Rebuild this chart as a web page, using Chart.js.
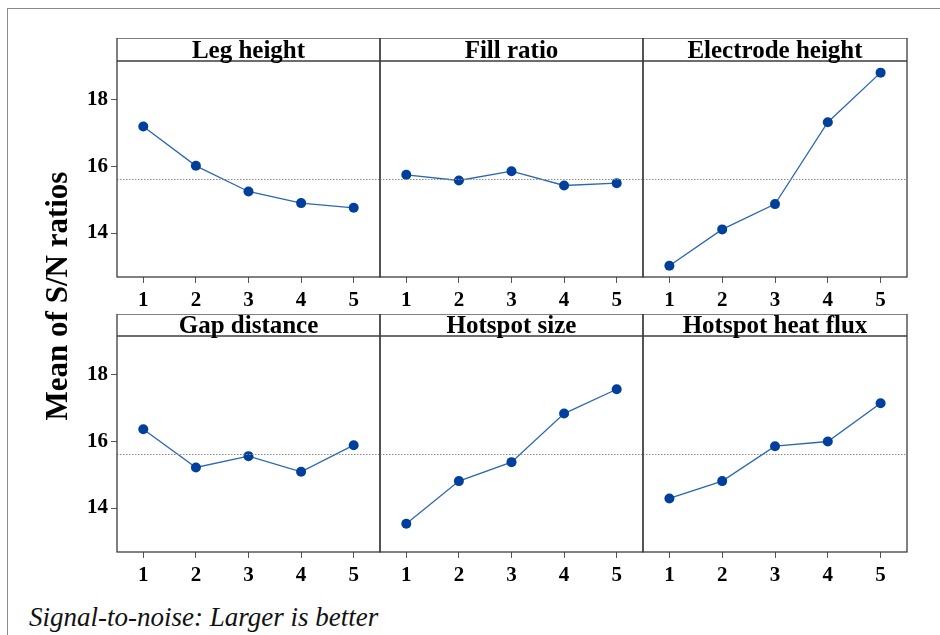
<!DOCTYPE html>
<html>
<head>
<meta charset="utf-8">
<script src="https://cdn.jsdelivr.net/npm/chart.js@4.4.1/dist/chart.umd.min.js"></script>
<style>
  html, body { margin: 0; padding: 0; background: #fff; }
  #wrap { position: relative; width: 940px; height: 635px; overflow: hidden; background: #fff; }
  #frame { position: absolute; left: 7px; top: 8px; width: 960px; height: 660px; border-top: 1.5px solid #8a8a8a; border-left: 1.5px solid #8a8a8a; }
  canvas { position: absolute; }
  #ylabel { position: absolute; left: -96px; top: 281px; width: 300px; height: 30px; line-height: 30px;
    text-align: center; transform: rotate(-90deg); font: bold 31px 'Liberation Serif', 'Times New Roman', serif; color: #000; }
  #footer { position: absolute; left: 29px; top: 602px; line-height: 27px; white-space: nowrap;
    font: italic 27px 'Liberation Serif', 'Times New Roman', serif; color: #111; }
</style>
</head>
<body>
<div id="wrap">
  <div id="frame"></div>
  <canvas id="c0"></canvas>
  <canvas id="c1"></canvas>
  <canvas id="c2"></canvas>
  <canvas id="c3"></canvas>
  <canvas id="c4"></canvas>
  <canvas id="c5"></canvas>
  <div id="ylabel">Mean of S/N ratios</div>
  <div id="footer">Signal-to-noise: Larger is better</div>
</div>
<script>
// data
const levels = ['1', '2', '3', '4', '5'];
const titles = ['Leg height', 'Fill ratio', 'Electrode height', 'Gap distance', 'Hotspot size', 'Hotspot heat flux'];
const legHeight = [17.20, 16.02, 15.25, 14.90, 14.76];
const fillRatio = [15.75, 15.58, 15.86, 15.43, 15.50];
const electrodeHeight = [13.02, 14.11, 14.87, 17.33, 18.82];
const gapDistance = [16.37, 15.22, 15.56, 15.09, 15.89];
const hotspotSize = [13.53, 14.81, 15.38, 16.84, 17.57];
const hotspotHeatFlux = [14.29, 14.81, 15.86, 16.00, 17.15];
const overallMean = 15.625;
const yTicks = [14, 16, 18];
const yMin = 12.68, yMax = 19.17;

const series = [legHeight, fillRatio, electrodeHeight, gapDistance, hotspotSize, hotspotHeatFlux];

// panel boxes (plot area edges)
const colLeft = [117, 380, 643];
const colRight = [380, 643, 907];
const rowTop = [38, 314];     // top of title strip
const stripH = [23, 22];
const plotBottom = [277, 552];
const xAxisH = 35;
const yAxisW = 60;
const pad = 3;

const serif = "'Liberation Serif', 'Times New Roman', serif";

const panelFrame = {
    id: 'panelFrame',
    afterDraw(chart, args, opts) {
        const { ctx, chartArea: a } = chart;
        const y = chart.scales.y.getPixelForValue(overallMean);
        ctx.save();
        // mean reference line
        ctx.strokeStyle = '#8c8c8c';
        ctx.lineWidth = 1;
        ctx.setLineDash([1.5, 1.5]);
        ctx.beginPath();
        ctx.moveTo(a.left, Math.round(y) + 0.5);
        ctx.lineTo(a.right, Math.round(y) + 0.5);
        ctx.stroke();
        ctx.setLineDash([]);
        // box + strip
        ctx.strokeStyle = '#3c3c3c';
        ctx.lineWidth = 1.3;
        const top = a.top - opts.strip;
        ctx.strokeRect(a.left, top, a.right - a.left, a.bottom - top);
        ctx.beginPath();
        ctx.moveTo(a.left, a.top);
        ctx.lineTo(a.right, a.top);
        ctx.stroke();
        // title
        ctx.fillStyle = '#000';
        ctx.font = 'bold 25px ' + serif;
        ctx.textAlign = 'center';
        ctx.textBaseline = 'alphabetic';
        ctx.fillText(opts.title, (a.left + a.right) / 2, a.top - 3);
        ctx.restore();
    }
};

series.forEach((vals, i) => {
    const row = Math.floor(i / 3), col = i % 3;
    const first = col === 0;
    const left = colLeft[col] - (first ? yAxisW : pad);
    const width = colRight[col] - colLeft[col] + (first ? yAxisW : pad) + pad;
    const top = rowTop[row];
    const height = plotBottom[row] - rowTop[row] + xAxisH;

    const cv = document.getElementById('c' + i);
    cv.width = width; cv.height = height;
    cv.style.left = left + 'px'; cv.style.top = top + 'px';
    cv.style.width = width + 'px'; cv.style.height = height + 'px';

    new Chart(cv.getContext('2d'), {
        type: 'line',
        data: {
            labels: levels,
            datasets: [{
                data: vals,
                borderColor: '#2a67b5',
                borderWidth: 1.3,
                tension: 0,
                pointRadius: 5,
                pointHoverRadius: 5,
                pointBackgroundColor: '#003f9c',
                pointBorderColor: '#003f9c',
                pointBorderWidth: 0
            }]
        },
        options: {
            responsive: false,
            animation: false,
            devicePixelRatio: 1,
            layout: { autoPadding: false, padding: { top: stripH[row], left: 0, right: 0, bottom: 0 } },
            plugins: {
                legend: { display: false },
                tooltip: { enabled: false },
                panelFrame: { title: titles[i], strip: stripH[row] }
            },
            scales: {
                x: {
                    type: 'category',
                    offset: true,
                    grid: { offset: false, drawOnChartArea: false, drawTicks: true, tickLength: 6, tickColor: '#555' },
                    border: { display: false },
                    ticks: { color: '#000', padding: 5, maxRotation: 0, font: { family: serif, size: 21, weight: 'bold' } },
                    afterFit: s => { s.height = xAxisH; s.paddingLeft = 0; s.paddingRight = 0; }
                },
                y: {
                    min: yMin,
                    max: yMax,
                    afterBuildTicks: s => { s.ticks = yTicks.map(v => ({ value: v })); },
                    grid: { display: first, drawOnChartArea: false, drawTicks: true, tickLength: 6, tickColor: '#555' },
                    border: { display: false },
                    ticks: { display: first, color: '#000', padding: 3, font: { family: serif, size: 21, weight: 'bold' } },
                    afterFit: s => { s.width = first ? yAxisW : pad; s.paddingTop = 0; s.paddingBottom = 0; }
                },
                // empty spacer on the right so the frame line is not clipped
                spacer: {
                    type: 'linear',
                    position: 'right',
                    min: 0,
                    max: 1,
                    grid: { display: false },
                    border: { display: false },
                    ticks: { display: false },
                    afterFit: s => { s.width = pad; s.paddingTop = 0; s.paddingBottom = 0; }
                }
            }
        },
        plugins: [panelFrame]
    });
});
</script>
</body>
</html>
